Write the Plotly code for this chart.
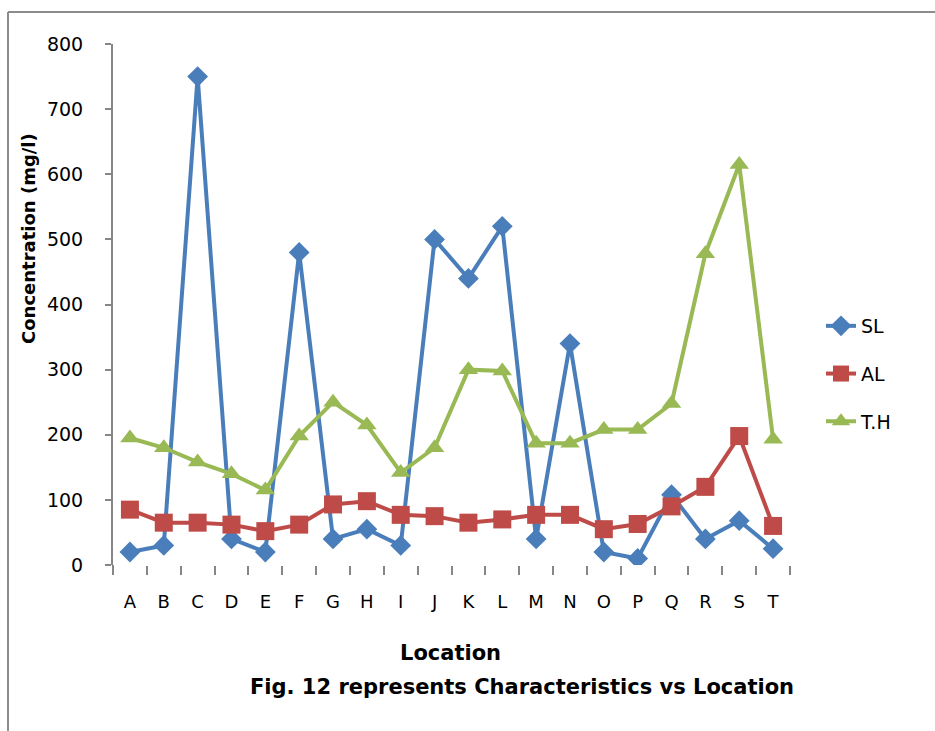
import plotly.graph_objects as go

# Sampling locations and measured concentrations (mg/l)
locations = ["A", "B", "C", "D", "E", "F", "G", "H", "I", "J",
             "K", "L", "M", "N", "O", "P", "Q", "R", "S", "T"]
sl = [20, 30, 750, 40, 20, 480, 40, 55, 30, 500,
      440, 520, 40, 340, 20, 10, 108, 40, 68, 25]
al = [85, 65, 65, 62, 52, 62, 93, 98, 77, 75,
      65, 70, 77, 77, 55, 63, 90, 120, 198, 60]
th = [195, 180, 158, 140, 115, 198, 250, 215, 142, 180,
      300, 298, 187, 187, 208, 208, 248, 478, 615, 193]
y_ticks = [0, 100, 200, 300, 400, 500, 600, 700, 800]

BLUE = "#4A7EBB"
RED = "#BE4B48"
GREEN = "#98B954"

fig = go.Figure()
fig.add_trace(go.Scatter(
    x=locations, y=sl, name="SL", mode="lines+markers", legendgroup="sl",
    line=dict(color=BLUE, width=4),
    marker=dict(symbol="diamond", size=16, color=BLUE),
))
fig.add_trace(go.Scatter(
    x=locations, y=al, name="AL", mode="lines+markers", legendgroup="al",
    line=dict(color=RED, width=4),
    marker=dict(symbol="square", size=18, color=RED),
))
fig.add_trace(go.Scatter(
    x=locations, y=th, name="T.H", mode="lines+markers", legendgroup="th",
    line=dict(color=GREEN, width=4),
    marker=dict(symbol="triangle-up", size=17, color=GREEN),
))

font_family = "DejaVu Sans, Liberation Sans, Arial, sans-serif"

L, R, T, B = 113, 145, 44, 166
PW = 935 - L - R
PH = 731 - T - B


def px(x):
    return (x - L) / PW


def py(y):
    return (731 - B - y) / PH


fig.update_layout(
    width=935, height=731,
    margin=dict(l=L, r=R, t=T, b=B),
    paper_bgcolor="white", plot_bgcolor="white",
    font=dict(family=font_family, size=18, color="black"),
    showlegend=True,
    legend=dict(
        x=px(821), y=py(374), xanchor="left", yanchor="middle",
        font=dict(size=19, family=font_family),
        tracegroupgap=20,
        bgcolor="rgba(0,0,0,0)",
    ),
    xaxis=dict(
        type="category", range=[-0.5, 19.5],
        showgrid=False, zeroline=False, showline=False,
        ticks="outside", ticklen=9, tickcolor="#868686", tickwidth=2,
        tickson="boundaries",
        tickfont=dict(size=18, family=font_family),
        ticklabelstandoff=24,
    ),
    yaxis=dict(
        range=[0, 800], tickvals=y_ticks,
        showgrid=False, zeroline=False,
        showline=True, linecolor="#868686", linewidth=2,
        ticks="outside", ticklen=6, tickcolor="#868686", tickwidth=2,
        tickfont=dict(size=19, family=font_family),
        ticklabelstandoff=18,
    ),
    annotations=[
        dict(text="<b>Concentration (mg/l)</b>", textangle=-90,
             xref="paper", yref="paper", xanchor="center", yanchor="middle",
             x=px(28), y=py(238),
             showarrow=False, font=dict(size=18, family=font_family)),
        dict(text="<b>Location</b>",
             xref="paper", yref="paper", xanchor="center", yanchor="middle",
             x=px(450), y=py(653),
             showarrow=False, font=dict(size=21, family=font_family)),
        dict(text="<b>Fig. 12 represents Characteristics vs Location</b>",
             xref="paper", yref="paper", xanchor="center", yanchor="middle",
             x=px(522), y=py(687),
             showarrow=False, font=dict(size=21, family=font_family)),
    ],
    shapes=[
        # outer frame: left and top edges
        dict(type="line", xref="paper", yref="paper",
             x0=px(8), x1=px(8), y0=py(12), y1=py(731),
             line=dict(color="#8c8c8c", width=2)),
        dict(type="line", xref="paper", yref="paper",
             x0=px(8), x1=px(935), y0=py(12), y1=py(12),
             line=dict(color="#8c8c8c", width=2)),
        # y-axis line carried down to the end of the category ticks
        dict(type="line", xref="paper", yref="paper",
             x0=0, x1=0, y0=0, y1=py(574),
             line=dict(color="#868686", width=2)),
    ],
)

fig.write_html("out.html")
